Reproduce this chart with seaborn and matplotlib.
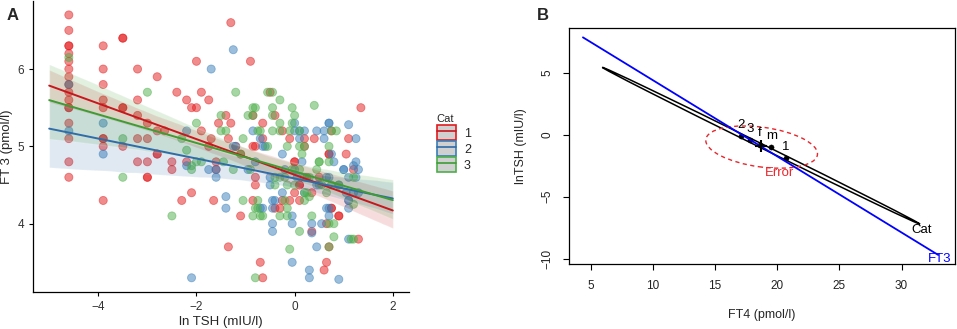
import matplotlib
matplotlib.use("Agg")
import numpy as np
import pandas as pd
import matplotlib.pyplot as plt
import seaborn as sns
from matplotlib.patches import Ellipse, Rectangle
from matplotlib.lines import Line2D
from matplotlib.legend_handler import HandlerTuple

# ---- Panel A data: ln TSH vs FT3, by category ----
cat1_x = [-4.6] * 17 + [-3.9] * 9 + [-3.5] * 5 + [-3.2] * 5 + [-3.0] * 5 + [-2.8] * 4 + [
    -2.65, -2.5, -2.5, -2.4, -2.3, -2.2, -2.2, -2.1, -2.1, -2.0, -2.0, -1.9, -1.9,
    -1.75, -1.75, -1.7, -1.65, -1.6, -1.6, -1.55, -1.4, -1.35, -1.35, -1.3, -1.3,
    -1.2, -1.1, -1.1, -0.9, -0.85, -0.85, -0.85, -0.8, -0.8, -0.8, -0.7, -0.65,
    -0.65, -0.65, -0.5, -0.4, -0.4, -0.3, -0.25, -0.25, -0.1, -0.1, 0.0, 0.0, 0.0,
    0.1, 0.1, 0.1, 0.2, 0.2, 0.25, 0.35, 0.35, 0.4, 0.5, 0.6, 0.65, 0.65, 0.7, 0.7,
    0.7, 0.75, 0.75, 0.75, 0.9, 0.9, 1.05, 1.1, 1.2, 1.3, 1.35]
cat1_y = [6.7, 6.5, 6.3, 6.3, 6.2, 6.1, 6.0, 5.9, 5.8, 5.7, 5.6, 5.5, 5.5, 5.3, 5.1, 4.8, 4.6,
          6.3, 6.0, 5.8, 5.6, 5.5, 5.1, 5.1, 5.0, 4.3,
          6.4, 6.4, 5.5, 5.5, 5.0,
          6.0, 5.6, 5.4, 5.1, 4.8,
          5.3, 5.1, 4.8, 4.6, 4.6,
          5.9, 5.2, 4.9, 4.9,
          5.2, 4.8, 4.7, 5.7, 4.3, 5.6, 4.8, 5.5, 4.4, 6.1, 5.5, 5.7, 5.2,
          5.6, 5.0, 5.1, 4.3, 4.8, 4.7, 5.3, 5.4, 5.1, 3.7, 6.6, 5.3,
          5.0, 4.9, 4.1, 6.1, 5.4, 5.0, 4.3, 5.0, 4.6, 4.5, 3.5, 5.3,
          5.1, 3.3, 5.7, 5.4, 4.2, 4.2, 5.2, 4.3, 5.1, 4.3, 4.8, 4.8, 4.4,
          4.5, 4.5, 4.3, 5.0, 5.1, 4.6, 4.4, 3.9, 5.1, 4.6, 3.4, 3.5, 4.0, 4.9, 4.9,
          3.7, 5.2, 4.2, 4.2, 4.1, 4.1, 4.9, 5.1, 4.7, 3.8, 5.5]

cat2_x = [-4.6, -4.6, -3.9, -3.9, -2.2, -2.2, -2.1, -1.75, -1.7, -1.6, -1.6, -1.4, -1.4,
          -1.25, -1.25, -1.2, -0.95, -0.85, -0.8, -0.7, -0.7, -0.65, -0.65, -0.6, -0.5,
          -0.5, -0.45, -0.45, -0.45, -0.45, -0.4, -0.25, -0.25, -0.2, -0.05, -0.05, -0.05,
          0.0, 0.0, 0.0, 0.05, 0.1, 0.1, 0.15, 0.2, 0.2, 0.3, 0.3, 0.35, 0.35, 0.45, 0.45,
          0.45, 0.5, 0.55, 0.6, 0.6, 0.65, 0.65, 0.7, 0.7, 0.7, 0.7, 0.7, 0.75, 0.8, 0.9,
          0.9, 1.0, 1.0, 1.05, 1.1, 1.1, 1.1, 1.1, 1.1, 1.1, 1.2, 1.2, 1.25, 1.25, 1.25,
          1.3, 1.3]
cat2_y = [5.8, 5.2, 5.3, 4.9, 5.2, 4.75, 3.3, 4.7, 6.0, 4.7, 4.6, 4.35, 4.2,
          6.25, 5.0, 5.0, 4.7, 5.2, 4.8, 5.1, 4.2, 4.2, 5.0, 5.0, 4.6,
          4.5, 4.2, 4.3, 4.0, 3.9, 4.3, 4.9, 4.4, 4.7, 4.1, 4.0, 3.5,
          5.3, 5.2, 4.7, 4.6, 5.2, 5.1, 4.8, 5.2, 4.4, 3.4, 3.3, 3.88, 4.0, 5.2, 4.5,
          3.7, 4.5, 4.0, 5.2, 5.1, 4.6, 4.2, 5.3, 5.3, 4.6, 4.2, 4.1, 4.9, 4.8, 4.5,
          3.28, 4.7, 4.7, 4.4, 5.28, 4.6, 4.3, 4.3, 4.2, 3.8, 4.75, 4.4, 5.1, 4.8, 4.6,
          4.7, 4.4]

cat3_x = [-4.6, -3.5, -3.5, -3.0, -2.5, -2.3, -2.2, -2.1, -2.1, -2.0, -2.0, -1.9, -1.5,
          -1.5, -1.45, -1.4, -1.25, -1.2, -1.1, -1.05, -1.05, -0.95, -0.9, -0.85, -0.85,
          -0.85, -0.8, -0.8, -0.8, -0.75, -0.75, -0.75, -0.7, -0.7, -0.65, -0.55, -0.55,
          -0.45, -0.45, -0.45, -0.45, -0.4, -0.4, -0.3, -0.3, -0.3, -0.3, -0.3, -0.2,
          -0.2, -0.15, -0.15, -0.15, -0.15, -0.1, -0.1, -0.05, -0.05, -0.05, 0.0, 0.0,
          0.1, 0.1, 0.1, 0.1, 0.15, 0.2, 0.2, 0.2, 0.2, 0.25, 0.3, 0.3, 0.35, 0.4, 0.45,
          0.5, 0.5, 0.55, 0.65, 0.7, 0.7, 0.7, 0.7, 0.75, 0.75, 0.8, 0.8, 0.85, 0.9,
          1.15, 1.2, 1.2, 1.2]
cat3_y = [6.15, 5.1, 4.6, 5.7, 4.1, 5.1, 4.95, 4.75, 4.7, 5.3, 4.8, 4.8, 5.4,
          5.2, 4.8, 5.2, 4.7, 5.7, 4.9, 5.1, 4.3, 5.4, 4.7, 5.5, 5.4,
          4.1, 5.5, 4.2, 3.3, 5.2, 4.3, 4.2, 5.2, 4.1, 4.1, 5.7, 5.0,
          5.5, 5.4, 5.2, 5.7, 4.5, 4.6, 5.6, 5.3, 5.2, 4.6, 4.1, 4.3,
          4.6, 5.0, 4.2, 4.1, 4.5, 5.2, 3.67, 5.5, 5.3, 4.7, 5.4, 4.5,
          5.2, 5.0, 4.7, 3.9, 4.9, 5.0, 4.6, 4.4, 4.3, 4.4, 4.6, 4.35, 4.1, 5.53, 4.7,
          4.8, 4.8, 4.5, 4.4, 5.0, 4.8, 4.0, 3.7, 5.2, 4.5, 3.83, 4.0, 5.2, 4.5,
          3.8, 4.6, 4.25, 3.8]

cat_names = ['1', '2', '3']
point_colors = ['#E41A1C', '#377EB8', '#4DAF4A']
line_colors = ['#C8171C', '#2F6CA8', '#3E9C33']

# ---- Panel B data ----
ft3_x = [4.38, 32.95]
ft3_y = [7.85, -9.70]
cat_center = (18.71, -0.89)
cat_len, cat_width, cat_angle = 28.5, 0.32, -26.33
err_center = (18.75, -1.0)
err_len, err_width, err_angle = 9.06, 3.2, -7.9
lvl_labels = ['2', '3', 'f', 'm', '1']
lvl_x = [17.12, 17.8, 18.6, 19.54, 20.67]
lvl_y = [-0.13, -0.43, -0.8, -0.97, -1.88]

sns.set_theme(style="ticks")
plt.rcParams['font.family'] = ['Liberation Sans', 'DejaVu Sans']

fig = plt.figure(figsize=(9.57, 3.29), dpi=100)

# ---------------- Panel A ----------------
W, H = 957, 329
axA = fig.add_axes([33 / W, 1 - 291.7 / H, (409 - 33) / W, (291.7 - 1) / H])

df = pd.concat([
    pd.DataFrame({'lnTSH': cat1_x, 'FT3': cat1_y, 'Cat': '1'}),
    pd.DataFrame({'lnTSH': cat2_x, 'FT3': cat2_y, 'Cat': '2'}),
    pd.DataFrame({'lnTSH': cat3_x, 'FT3': cat3_y, 'Cat': '3'}),
])

sns.scatterplot(data=df, x='lnTSH', y='FT3', hue='Cat', hue_order=cat_names,
                palette=point_colors, alpha=0.5, s=34, edgecolor='face',
                linewidth=0.6, legend=False, ax=axA)

# fit lines over -5..2 like the original
axA.set_xlim(-5, 2)
for name, lc in zip(cat_names, line_colors):
    sub = df[df['Cat'] == name]
    sns.regplot(data=sub, x='lnTSH', y='FT3', scatter=False, truncate=False,
                ci=95, seed=1, color=lc, line_kws=dict(lw=1.4), ax=axA)

axA.set_xlim(-5.33, 2.33)
axA.set_ylim(3.12, 6.88)
axA.set_xticks([-4, -2, 0, 2])
axA.set_yticks([4, 5, 6])
axA.set_xlabel('ln TSH (mIU/l)', fontsize=9.5, labelpad=2)
axA.set_ylabel('FT 3 (pmol/l)', fontsize=9.5, labelpad=3)
axA.tick_params(labelsize=8.5, colors='#333333', length=3, width=0.8)
axA.tick_params(axis='both', color='black')
sns.despine(ax=axA)
for sp in ['left', 'bottom']:
    axA.spines[sp].set_color('black')
    axA.spines[sp].set_linewidth(0.9)

handles = []
for pc, lc in zip(point_colors, line_colors):
    box = Rectangle((0, 0), 1, 1, facecolor='#D0D0D0', edgecolor=pc, lw=1.2)
    ln = Line2D([], [], color=lc, lw=1.2)
    handles.append((box, ln))
fig.legend(handles, cat_names, title='Cat', loc='upper left',
           bbox_to_anchor=(425.5 / W, 1 - 103 / H), frameon=False,
           handler_map={tuple: HandlerTuple(ndivide=1, pad=0)},
           handlelength=1.52, handleheight=1.52, labelspacing=0.05,
           handletextpad=0.65, fontsize=9, title_fontsize=8, alignment='left')

fig.text(7 / W, 1 - 20 / H, 'A', fontsize=12, fontweight='bold')

# ---------------- Panel B ----------------
axB = fig.add_axes([569 / W, 1 - 264 / H, (955 - 569) / W, (264 - 28.3) / H])
sns.lineplot(x=ft3_x, y=ft3_y, color='#0000FF', lw=1.3, ax=axB)
axB.add_patch(Ellipse(cat_center, cat_len, cat_width, angle=cat_angle,
                      fill=False, ec='black', lw=1.1))
axB.add_patch(Ellipse(err_center, err_len, err_width, angle=err_angle,
                      fill=False, ec='#E8262B', lw=1.0, ls=(0, (3, 2.5))))
sns.scatterplot(x=lvl_x, y=lvl_y, color='black', s=14, edgecolor='black', ax=axB)
axB.plot(cat_center[0], cat_center[1], marker='+', color='black', ms=9, mew=1.5)
for lab, x, y in zip(lvl_labels, lvl_x, lvl_y):
    axB.annotate(lab, (x, y), xytext=(0, 8), textcoords='offset points',
                 ha='center', va='center', fontsize=9.5, color='black')
axB.text(31.6, -7.65, 'Cat', ha='center', va='center', fontsize=9.5, color='black')
axB.text(33.1, -10.05, 'FT3', ha='center', va='center', fontsize=9.5, color='#0000FF')
axB.text(20.16, -3.12, 'Error', ha='center', va='center', fontsize=9.5, color='#E8262B')

axB.set_xlim(3.26, 34.3)
axB.set_ylim(-10.43, 8.58)
axB.set_xticks([5, 10, 15, 20, 25, 30])
axB.set_yticks([-10, -5, 0, 5])
axB.tick_params(labelsize=8.5, colors='#222222', length=4.5, width=0.8, pad=7)
axB.tick_params(axis='both', color='black')
for lab in axB.get_yticklabels():
    lab.set_rotation(90)
    lab.set_va('center')
for sp in axB.spines.values():
    sp.set_color('black')
    sp.set_linewidth(0.9)
axB.set_xlabel('FT4 (pmol/l)', fontsize=9, labelpad=12)
axB.set_ylabel('lnTSH (mIU/l)', fontsize=9, labelpad=10)

fig.text(537 / W, 1 - 20 / H, 'B', fontsize=12, fontweight='bold')

fig.savefig('out.png', dpi=100)
